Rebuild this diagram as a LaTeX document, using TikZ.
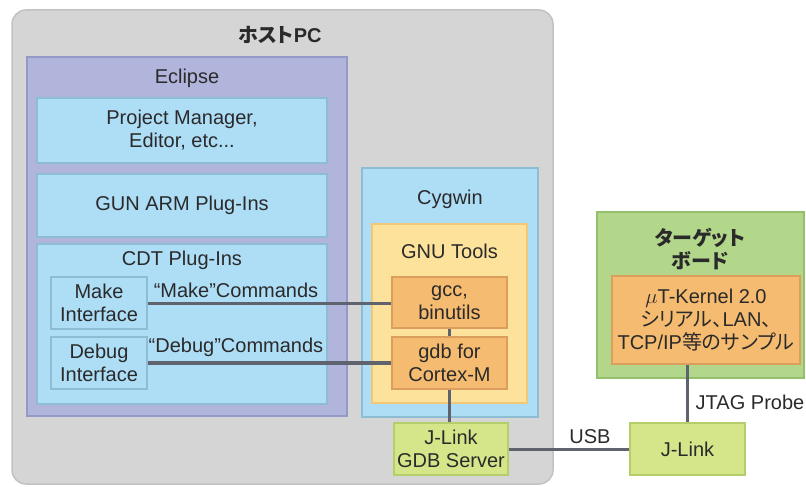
\documentclass[tikz,border=0pt]{standalone}
\usepackage{fontspec}
\setmainfont{Liberation Sans}
\newfontfamily\cjk[RawFeature=+palt]{Noto Sans CJK JP}
\definecolor{hostfill}{HTML}{D5D5D5}
\definecolor{hostline}{HTML}{C2C2C2}
\definecolor{eclfill}{HTML}{B1B5DC}
\definecolor{eclline}{HTML}{9599C8}
\definecolor{bluefill}{HTML}{AEDDF6}
\definecolor{blueline}{HTML}{8DBDD2}
\definecolor{gnufill}{HTML}{FDE29B}
\definecolor{gnuline}{HTML}{F0C878}
\definecolor{orfill}{HTML}{F5BB70}
\definecolor{orline}{HTML}{DB9E5C}
\definecolor{tgfill}{HTML}{B2D78B}
\definecolor{tgline}{HTML}{94C06D}
\definecolor{jlfill}{HTML}{D5E68A}
\definecolor{jlline}{HTML}{B5CE6C}
\definecolor{wire}{HTML}{5E636E}
\definecolor{txt}{HTML}{2A2A2A}
\tikzset{
  fnt/.style={font=\fontsize{20}{23}\selectfont, text=txt},
  box/.style={fnt, line width=2.5pt, inner sep=0pt, align=center},
  eclbox/.style={box, draw=eclline, fill=eclfill},
  bluebox/.style={box, draw=blueline, fill=bluefill},
  gnubox/.style={box, draw=gnuline, fill=gnufill},
  orbox/.style={box, draw=orline, fill=orfill},
  tgbox/.style={box, draw=tgline, fill=tgfill},
  jlbox/.style={box, draw=jlline, fill=jlfill},
  lbl/.style={fnt, inner sep=0pt, align=center},
  conn/.style={draw=wire, line width=3pt},
}
\begin{document}
\begin{tikzpicture}[x=1pt,y=-1pt]
\useasboundingbox (0,0) rectangle (806,487);
% host PC
\node[draw=hostline, fill=hostfill, line width=1.5pt, rounded corners=14pt,
      minimum width=541pt, minimum height=474pt, inner sep=0pt] (host) at (282.5,247) {};
\node[lbl, font=\fontsize{20}{23}\selectfont\bfseries] (hosttitle) at (280,35) {{\cjk ホスト}PC};
% Eclipse
\node[eclbox, minimum width=320pt, minimum height=359pt] (ecl) at (187,236.5) {};
\node[lbl] (ecltitle) at (187,78) {Eclipse};
\node[bluebox, minimum width=290pt, minimum height=65pt] (pm) at (182,130.5) {Project Manager,\\Editor, etc...};
\node[bluebox, minimum width=290pt, minimum height=63pt] (gun) at (182,205.5) {GUN ARM Plug-Ins};
\node[bluebox, minimum width=290pt, minimum height=160pt] (cdt) at (182,324) {};
\node[lbl] (cdttitle) at (182,260) {CDT Plug-Ins};
\node[bluebox, minimum width=96pt, minimum height=52pt] (make) at (99,303) {Make\\Interface};
\node[bluebox, minimum width=96pt, minimum height=52pt] (debug) at (99,363) {Debug\\Interface};
\node[lbl] (makelbl) at (236,290) {“Make”Commands};
\node[lbl] (debuglbl) at (236,347) {“Debug”Commands};
% Cygwin
\node[bluebox, minimum width=176pt, minimum height=249pt] (cyg) at (450,292.5) {};
\node[lbl] (cygtitle) at (450,199) {Cygwin};
\node[gnubox, minimum width=155pt, minimum height=179pt] (gnu) at (449.5,313.5) {};
\node[lbl] (gnutitle) at (449.5,251) {GNU Tools};
\node[orbox, minimum width=115pt, minimum height=51pt] (gcc) at (449.5,302.5) {gcc,\\binutils};
\node[orbox, minimum width=115pt, minimum height=52pt] (gdb) at (449.5,363) {gdb for\\Cortex-M};
\node[jlbox, minimum width=114pt, minimum height=52pt] (jgdb) at (451,449) {J-Link\\GDB Server};
% target
\node[tgbox, minimum width=207pt, minimum height=166pt] (tg) at (700.5,295) {};
\node[lbl, font=\fontsize{20}{23}\selectfont\bfseries\cjk] (tgtitle) at (700,248.5) {ターゲット\\ボード};
\node[orbox, minimum width=188pt, minimum height=88pt] (ut) at (706,320) {$\mu$T-Kernel 2.0\\{\cjk シリアル、}LAN{\cjk 、}\\TCP/IP{\cjk 等のサンプル}};
\node[jlbox, minimum width=115pt, minimum height=52pt] (jl) at (687.5,449) {J-Link};
\node[lbl] (jtaglbl) at (750,402) {JTAG Probe};
\node[lbl] (usblbl) at (590,437) {USB};
% connectors
\draw[conn] (make.east) -- (make.east -| gcc.west);
\draw[conn, line width=3.5pt] (debug.east) -- (debug.east -| gdb.west);
\draw[conn] (gcc.south) -- (gdb.north);
\draw[conn] (gdb.south) -- (gdb.south |- jgdb.north);
\draw[conn] (jgdb.east) -- (jgdb.east -| jl.west);
\draw[conn] (jl.north) -- (jl.north |- ut.south);
\end{tikzpicture}
\end{document}
